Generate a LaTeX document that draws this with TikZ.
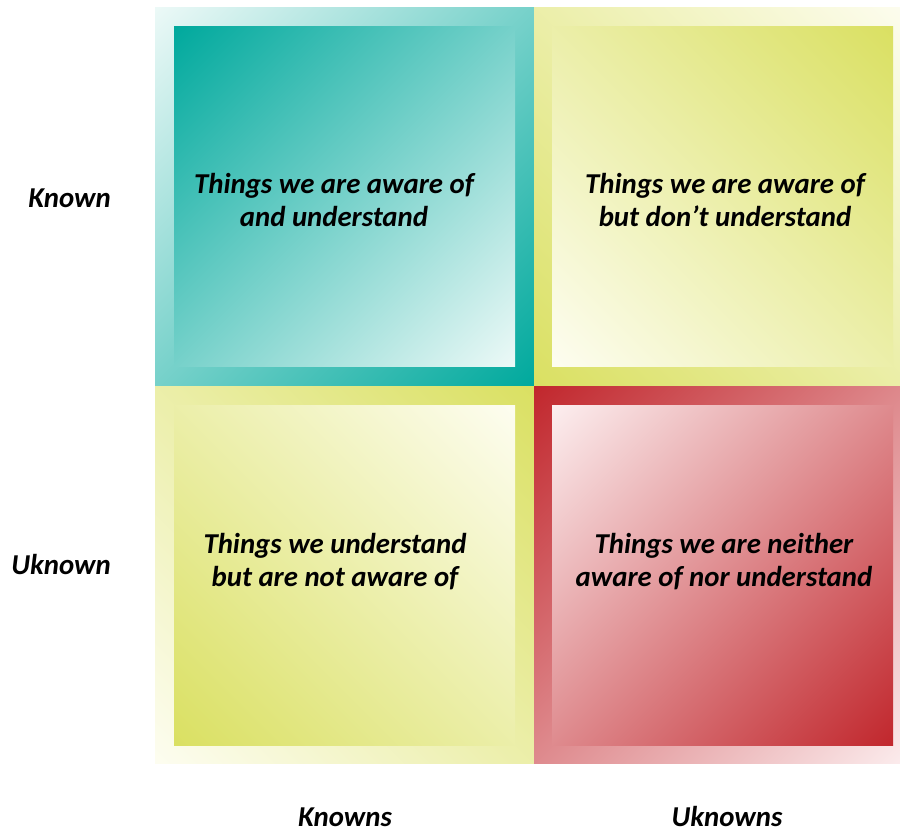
\documentclass[tikz,border=0pt]{standalone}
\usepackage{fontspec}
\setmainfont{Carlito}
\definecolor{teal}{RGB}{0,169,157}
\definecolor{tealpale}{RGB}{236,249,247}
\definecolor{lime}{RGB}{218,224,98}
\definecolor{limepale}{RGB}{253,253,240}
\definecolor{crimson}{RGB}{193,39,45}
\definecolor{crimsonpale}{RGB}{252,238,239}
% linear ramps, pale at the bottom and full colour at the top; the stops are
% placed so the ramp runs corner to corner once turned by 45 degrees
\pgfdeclareverticalshading{tealramp}{100bp}{color(0bp)=(tealpale); color(14.6bp)=(tealpale); color(85.4bp)=(teal); color(100bp)=(teal)}
\pgfdeclareverticalshading{limeramp}{100bp}{color(0bp)=(limepale); color(14.6bp)=(limepale); color(85.4bp)=(lime); color(100bp)=(lime)}
\pgfdeclareverticalshading{crimsonramp}{100bp}{color(0bp)=(crimsonpale); color(14.6bp)=(crimsonpale); color(85.4bp)=(crimson); color(100bp)=(crimson)}
\begin{document}
\begin{tikzpicture}[x=1pt,y=-1pt,
  outerbox/.style={inner sep=0pt, outer sep=0pt, anchor=north west,
    minimum width=379pt, minimum height=379pt},
  innerbox/.style={inner sep=0pt, outer sep=0pt, anchor=north west,
    minimum width=341pt, minimum height=340pt},
  % full colour toward the corner given by the angle
  ramp/.style 2 args={shading=#1, shading angle=#2},
  cell/.style={align=center, inner sep=0pt, font=\fontsize{28.8}{33.5}\selectfont\bfseries\itshape},
  axislabel/.style={inner sep=0pt, font=\fontsize{28.8}{33.5}\selectfont\bfseries\itshape}
]
\clip (0,0) rectangle (900,830);
\fill[white] (0,0) rectangle (900,830);

% outer frames
\node (okk) [outerbox, ramp={tealramp}{225}] at (155,7) {};
\node (oku) [outerbox, ramp={limeramp}{135}] at (534,7) {};
\node (ouk) [outerbox, minimum height=377pt, ramp={limeramp}{-45}] at (155,386) {};
\node (ouu) [outerbox, minimum height=377pt, ramp={crimsonramp}{45}] at (534,386) {};

% inner panels
\node (ikk) [innerbox, ramp={tealramp}{45}] at (174,26) {};
\node (iku) [innerbox, ramp={limeramp}{-45}] at (552,26) {};
\node (iuk) [innerbox, ramp={limeramp}{135}] at (174,405) {};
\node (iuu) [innerbox, ramp={crimsonramp}{225}] at (552,405) {};

% panel texts
\node (tkk) [cell] at (334,200) {Things we are aware of\\and understand};
\node (tku) [cell] at (725,200) {Things we are aware of\\but don’t understand};
\node (tuk) [cell] at (335,561.5) {Things we understand\\but are not aware of};
\node (tuu) [cell] at (724,561.5) {Things we are neither\\aware of nor understand};

% axis labels
\node (rowk) [axislabel, anchor=base east] at (111,207) {Known};
\node (rowu) [axislabel, anchor=base east] at (111,574) {Uknown};
\node (colk) [axislabel, anchor=base] at (345,826) {Knowns};
\node (colu) [axislabel, anchor=base] at (727,826) {Uknowns};
\end{tikzpicture}
\end{document}
